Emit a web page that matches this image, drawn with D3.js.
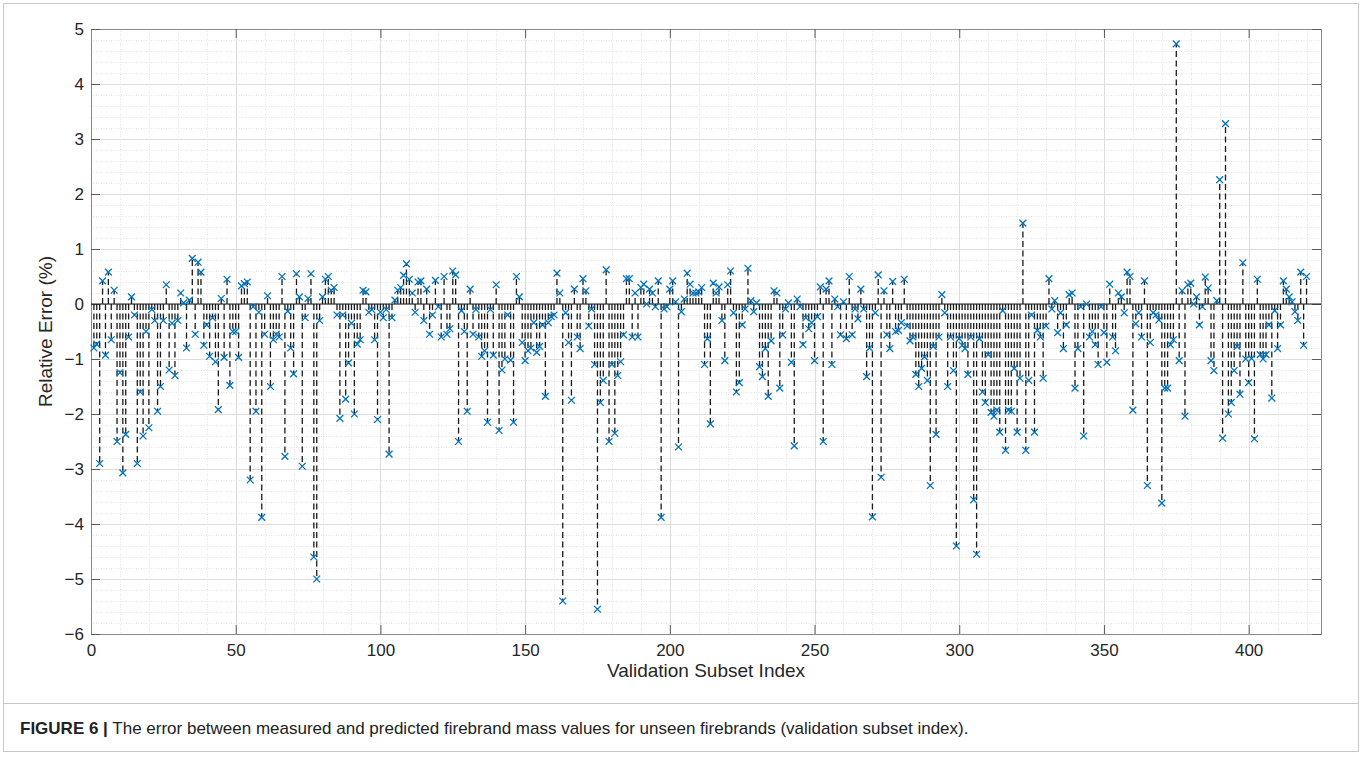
<!DOCTYPE html>
<html><head><meta charset="utf-8">
<script src="https://cdn.jsdelivr.net/npm/d3@7"></script>
<style>body{margin:0;background:#fff;} svg{display:block}</style>
</head><body>
<svg id="c" width="1363" height="757"></svg>
<script>
// Relative error (%) for validation subset index 1..420
const relErrors = [
-0.80,-0.73,-2.90,0.42,-0.93,0.58,-0.65,0.25,-2.50,-1.25,
-3.07,-2.37,-0.60,0.13,-0.20,-2.90,-1.60,-2.40,-0.50,-2.25,
-0.10,-0.30,-1.95,-1.50,-0.30,0.35,-1.20,-0.35,-1.30,-0.30,
0.20,0.02,-0.80,0.07,0.83,-0.55,0.76,0.58,-0.75,-0.38,
-0.95,-0.25,-1.05,-1.92,0.10,-0.97,0.45,-1.48,-0.50,-0.50,
-0.97,0.33,0.37,0.40,-3.20,-0.05,-1.95,-0.15,-3.88,-0.55,
0.15,-1.50,-0.65,-0.55,-0.60,0.50,-2.77,-0.13,-0.80,-1.27,
0.55,0.13,-2.95,-0.25,0.10,0.55,-4.60,-5.00,-0.30,0.13,
0.45,0.50,0.25,0.30,-0.20,-2.08,-0.20,-1.73,-1.07,-0.35,
-2.00,-0.73,-0.65,0.25,0.22,-0.15,-0.10,-0.65,-2.10,-0.15,
-0.25,-0.10,-2.73,-0.25,0.07,0.25,0.30,0.52,0.73,0.45,
0.20,-0.15,0.40,0.42,-0.30,0.27,-0.55,-0.20,0.43,-0.05,
-0.60,0.50,-0.55,-0.45,0.60,0.53,-2.50,-0.12,-0.50,-1.95,
0.27,-0.55,-0.10,-0.60,-0.95,-0.85,-2.15,-0.10,-0.93,0.35,
-2.30,-1.20,-1.00,-0.20,-1.02,-2.15,0.50,0.13,-0.70,-1.03,
-0.85,-0.80,-0.34,-0.88,-0.77,-0.38,-1.68,-0.34,-0.23,-0.20,
0.56,0.20,-5.40,-0.16,-0.70,-1.75,0.27,-0.60,-0.81,0.46,
0.24,-0.40,-0.09,-1.10,-5.55,-1.79,-1.39,0.62,-2.50,-1.10,
-2.35,-1.30,-1.05,-0.56,0.46,0.46,-0.60,0.20,-0.60,0.30,
0.36,0.00,0.27,0.20,-0.05,0.42,-3.88,-0.09,-0.05,0.27,
0.42,0.04,-2.60,-0.14,0.09,0.56,0.36,0.20,0.20,0.22,
0.30,-1.10,-0.63,-2.18,0.38,0.20,0.31,-0.30,-1.03,0.35,
0.60,-0.16,-1.60,-1.43,-0.38,-0.09,0.65,0.06,-0.14,0.02,
-1.14,-1.32,-0.81,-1.68,-0.67,0.24,0.20,-1.53,-0.56,-0.09,
0.02,-1.06,-2.58,0.09,-0.05,-0.74,-0.25,-0.45,-0.34,-1.03,
-0.23,0.31,-2.50,0.27,0.42,-1.10,0.09,-0.05,-0.56,0.04,
-0.63,0.50,-0.56,-0.09,-0.27,0.27,-0.09,-1.32,-0.80,-3.87,
-0.16,0.53,-3.15,0.24,-0.56,-0.81,0.41,-0.50,-0.48,-0.34,
0.45,-0.40,-0.67,-0.60,-1.28,-1.50,-1.17,-0.96,-1.39,-3.30,
-0.77,-2.37,-0.60,0.17,-0.16,-1.50,-0.60,-1.21,-4.40,-0.63,
-0.75,-0.81,-1.28,-0.60,-3.56,-4.55,-0.63,-1.60,-1.79,-0.92,
-1.97,-2.04,-1.93,-2.33,-0.12,-2.66,-1.93,-1.95,-1.17,-2.33,
-1.35,1.47,-2.66,-1.39,-0.20,-2.33,-0.48,-0.60,-1.35,-0.40,
0.46,-0.09,0.06,-0.52,-0.16,-0.81,-0.38,0.17,0.20,-1.53,
-0.81,-0.05,-2.40,0.00,-0.60,-0.50,-0.74,-1.10,-0.05,-0.52,
-1.06,0.36,-0.60,-0.85,0.20,0.13,-0.16,0.58,0.50,-1.93,
-0.36,-0.16,-0.60,0.42,-3.30,-0.70,-0.16,-0.20,-0.29,-3.62,
-1.53,-1.53,-0.74,-0.65,4.73,-1.03,0.24,-2.04,0.35,0.38,
0.00,0.13,-0.38,-0.05,0.49,0.29,-1.03,-1.21,0.06,2.26,
-2.44,3.28,-2.00,-1.79,-1.21,-0.77,-1.64,0.75,-1.00,-1.43,
-0.99,-2.45,0.45,-0.92,-1.00,-0.92,-0.38,-1.71,-0.12,-0.81,
-0.38,0.42,0.27,0.13,0.04,-0.14,-0.30,0.58,-0.75,0.50
];
const xTickValues = [0,50,100,150,200,250,300,350,400];
const yTickValues = [-6,-5,-4,-3,-2,-1,0,1,2,3,4,5];
const xLabelText = "Validation Subset Index";
const yLabelText = "Relative Error (%)";
const captionBold = "FIGURE 6 |";
const captionText = " The error between measured and predicted firebrand mass values for unseen firebrands (validation subset index).";

const points = relErrors.map((v,i)=>({idx:i+1, val:v}));

const svg = d3.select("#c");
const L=91, T=29, R=1321, B=634;
const x = d3.scaleLinear().domain([0,425]).range([L,R]);
const y = d3.scaleLinear().domain([-6,5]).range([B,T]);
const font = "'Liberation Sans', Arial, Helvetica, sans-serif";

// figure frame
svg.append("rect").attr("x",3.5).attr("y",3.5).attr("width",1355).attr("height",748)
  .attr("fill","none").attr("stroke","#c8c8c8").attr("stroke-width",1);
svg.append("line").attr("x1",3.5).attr("x2",1358.5).attr("y1",703.5).attr("y2",703.5)
  .attr("stroke","#c8c8c8");

svg.append("rect").attr("x",L).attr("y",T).attr("width",R-L).attr("height",B-T).attr("fill","#fff");

// minor grids
const g = svg.append("g");
g.selectAll(".mx").data(d3.range(10,425,10).filter(v=>v%50!==0)).join("line")
  .attr("x1",d=>Math.round(x(d))+0.5).attr("x2",d=>Math.round(x(d))+0.5).attr("y1",T).attr("y2",B)
  .attr("stroke","#e4e4e4").attr("stroke-dasharray","1,1.5");
g.selectAll(".my").data(d3.range(-5.8,5,0.2).filter(v=>Math.abs(v-Math.round(v))>0.05)).join("line")
  .attr("y1",d=>Math.round(y(d))+0.5).attr("y2",d=>Math.round(y(d))+0.5).attr("x1",L).attr("x2",R)
  .attr("stroke","#e4e4e4").attr("stroke-dasharray","1,1.5");
// major grids
g.selectAll(".Mx").data(xTickValues.slice(1)).join("line")
  .attr("x1",d=>Math.round(x(d))+0.5).attr("x2",d=>Math.round(x(d))+0.5).attr("y1",T).attr("y2",B)
  .attr("stroke","#dcdcdc");
g.selectAll(".My").data(yTickValues).join("line")
  .attr("y1",d=>Math.round(y(d))+0.5).attr("y2",d=>Math.round(y(d))+0.5).attr("x1",L).attr("x2",R)
  .attr("stroke","#dcdcdc");

// axes with inward ticks
const axB = d3.axisBottom(x).tickValues(xTickValues).tickSize(-9).tickPadding(10).tickFormat(d3.format("d"));
const axT = d3.axisTop(x).tickValues(xTickValues).tickSize(-9).tickFormat("");
const axLft = d3.axisLeft(y).tickValues(yTickValues).tickSize(-9).tickPadding(7).tickFormat(d3.format("d"));
const axRgt = d3.axisRight(y).tickValues(yTickValues).tickSize(-9).tickFormat("");
function style(sel){
  sel.selectAll("path").attr("stroke","#8a8a8a").attr("stroke-width",1);
  sel.selectAll("line").attr("stroke","#5a5a5a");
  sel.selectAll("text").attr("font-family",font).attr("font-size",17).attr("fill","#262626");
}
svg.append("g").attr("transform",`translate(0,${B})`).call(axB).call(style);
svg.append("g").attr("transform",`translate(0,${T})`).call(axT).call(style);
svg.append("g").attr("transform",`translate(${L},0)`).call(axLft).call(style);
svg.append("g").attr("transform",`translate(${R},0)`).call(axRgt).call(style);

// stems
const plot = svg.append("g");
plot.selectAll(".stem").data(points).join("line")
  .attr("x1",d=>x(d.idx)).attr("x2",d=>x(d.idx)).attr("y1",y(0)).attr("y2",d=>y(d.val))
  .attr("stroke","#1a1a1a").attr("stroke-width",1.3).attr("stroke-dasharray","6,3.5");
plot.append("line").attr("x1",L).attr("x2",R).attr("y1",y(0)).attr("y2",y(0))
  .attr("stroke","#1a1a1a").attr("stroke-width",1.2);
// markers
const m = 3.4;
plot.selectAll(".mk").data(points).join("path")
  .attr("d",d=>{const cx=x(d.idx), cy=y(d.val);
    return `M${cx-m},${cy-m}L${cx+m},${cy+m}M${cx-m},${cy+m}L${cx+m},${cy-m}`;})
  .attr("stroke","#0072BD").attr("stroke-width",1.3).attr("fill","none");

// axis labels
svg.append("text").attr("x",(L+R)/2).attr("y",677).attr("text-anchor","middle")
  .attr("font-family",font).attr("font-size",19).attr("fill","#262626").text(xLabelText);
svg.append("text").attr("transform",`translate(52,${(T+B)/2}) rotate(-90)`).attr("text-anchor","middle")
  .attr("font-family",font).attr("font-size",19).attr("fill","#262626").text(yLabelText);

// caption
const cap = svg.append("text").attr("x",20).attr("y",734).attr("font-family",font).attr("font-size",17).attr("fill","#222");
cap.append("tspan").attr("font-weight","bold").text(captionBold);
cap.append("tspan").text(captionText);
</script>
</body></html>
